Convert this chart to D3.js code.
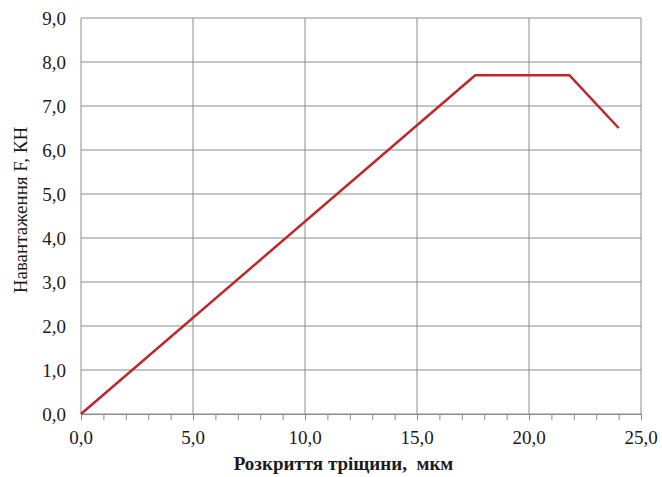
<!DOCTYPE html>
<html>
<head>
<meta charset="utf-8">
<script src="https://cdn.jsdelivr.net/npm/d3@7"></script>
<style>
  body { margin: 0; background: #fff; }
  svg text { font-family: "Liberation Serif", "Times New Roman", serif; fill: #1a1a1a; white-space: pre; }
</style>
</head>
<body>
<div id="chart"></div>
<script>
// crack opening (mkm) vs load (kN)
var opening = [0, 17.6, 21.8, 24.0];
var load = [0, 7.7, 7.7, 6.5];
var xTicks = [0, 5, 10, 15, 20, 25];
var yTicks = [0, 1, 2, 3, 4, 5, 6, 7, 8, 9];
var xTitle = 'Розкриття тріщини,  мкм';
var yTitle = 'Навантаження F, КН';

var W = 662, H = 477;
var margin = { top: 18, right: 21, bottom: 63, left: 81 };
var width = W - margin.left - margin.right;
var height = H - margin.top - margin.bottom;

var fmt = function (v) { return d3.format('.1f')(v).replace('.', ','); };

var svg = d3.select('#chart').append('svg')
  .attr('width', W).attr('height', H)
  .append('g')
  .attr('transform', 'translate(' + margin.left + ',' + margin.top + ')');

var x = d3.scaleLinear().domain([0, 25]).range([0, width]);
var y = d3.scaleLinear().domain([0, 9]).range([height, 0]);

// grid
svg.append('g').selectAll('line').data(yTicks).enter().append('line')
  .attr('x1', 0).attr('x2', width)
  .attr('y1', function (d) { return y(d); }).attr('y2', function (d) { return y(d); })
  .attr('stroke', '#8c8c8c').attr('stroke-width', 1);
svg.append('g').selectAll('line').data(xTicks).enter().append('line')
  .attr('y1', 0).attr('y2', height)
  .attr('x1', function (d) { return x(d); }).attr('x2', function (d) { return x(d); })
  .attr('stroke', '#8c8c8c').attr('stroke-width', 1);

// x axis with minor ticks
var xAxis = svg.append('g').attr('transform', 'translate(0,' + height + ')')
  .call(d3.axisBottom(x).tickValues(d3.range(0, 25.01, 1)).tickSize(6).tickFormat(''));
xAxis.select('.domain').attr('stroke', '#8c8c8c');
xAxis.selectAll('.tick line').attr('stroke', '#8c8c8c');

svg.append('g').selectAll('text').data(xTicks).enter().append('text')
  .attr('x', function (d) { return x(d); })
  .attr('y', height + 30)
  .attr('text-anchor', 'middle')
  .style('font-size', '19px')
  .text(fmt);

svg.append('g').selectAll('text').data(yTicks).enter().append('text')
  .attr('x', -15)
  .attr('y', function (d) { return y(d); })
  .attr('dy', '0.35em')
  .attr('text-anchor', 'end')
  .style('font-size', '19px')
  .text(fmt);

// line
var line = d3.line()
  .x(function (d, i) { return x(opening[i]); })
  .y(function (d, i) { return y(load[i]); });
svg.append('path').datum(opening)
  .attr('d', line)
  .attr('fill', 'none')
  .attr('stroke', '#c0272d')
  .attr('stroke-width', 2.5)
  .attr('stroke-linejoin', 'round');

// titles
svg.append('text')
  .attr('x', (234 + 453) / 2 - margin.left)
  .attr('y', height + 56)
  .attr('text-anchor', 'middle')
  .style('font-size', '19px')
  .style('font-weight', 'bold')
  .text(xTitle);

svg.append('text')
  .attr('transform', 'translate(' + (27 - margin.left) + ',' + (210 - margin.top) + ') rotate(-90)')
  .attr('text-anchor', 'middle')
  .style('font-size', '19px')
  .text(yTitle);
</script>
</body>
</html>
